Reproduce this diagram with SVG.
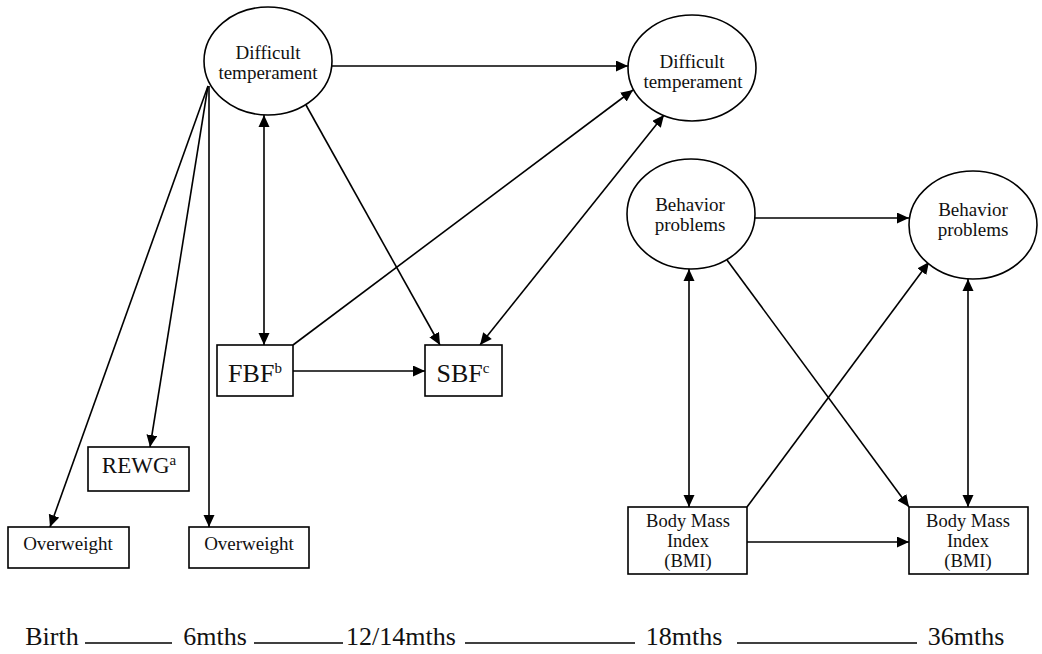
<svg xmlns="http://www.w3.org/2000/svg" width="1042" height="654" viewBox="0 0 1042 654">
<style>
.shape{fill:#fff;stroke:#000;stroke-width:1.6}
.ln{stroke:#000;stroke-width:1.6;fill:none}
.e{marker-end:url(#ah)}
.b{marker-start:url(#ahs);marker-end:url(#ah)}
text{font-family:"Liberation Serif","Times New Roman",serif;fill:#111;text-anchor:middle}
.t19{font-size:19px}
.t18{font-size:18.5px}
.big{font-size:26px}
.rw{font-size:23px}
.sup{font-size:15px}
.tl{font-size:26px}
</style>
<defs>
<marker id="ah" markerUnits="userSpaceOnUse" markerWidth="13" markerHeight="12" refX="12" refY="5.5" orient="auto">
<path d="M0,0 L12,5.5 L0,11 z" fill="#000"/>
</marker>
<marker id="ahs" markerUnits="userSpaceOnUse" markerWidth="13" markerHeight="12" refX="0" refY="5.5" orient="auto">
<path d="M12,0 L0,5.5 L12,11 z" fill="#000"/>
</marker>
</defs>

<g id="connectors">
<line class="ln e" x1="332" y1="66" x2="628" y2="66"/>
<line class="ln b" x1="264" y1="115" x2="264" y2="345"/>
<line class="ln e" x1="306" y1="105" x2="440" y2="345"/>
<line class="ln e" x1="293" y1="345" x2="633" y2="90"/>
<line class="ln b" x1="480" y1="345" x2="664" y2="115"/>
<line class="ln e" x1="293" y1="371" x2="425" y2="371"/>
<line class="ln e" x1="208" y1="86" x2="50" y2="527"/>
<line class="ln e" x1="208" y1="86" x2="150" y2="447"/>
<line class="ln e" x1="209" y1="86" x2="209" y2="527"/>
<line class="ln e" x1="755" y1="218" x2="909" y2="218"/>
<line class="ln b" x1="689" y1="269" x2="689" y2="507"/>
<line class="ln e" x1="727" y1="260" x2="909" y2="507"/>
<line class="ln e" x1="747" y1="507" x2="929" y2="262"/>
<line class="ln b" x1="968" y1="279" x2="968" y2="507"/>
<line class="ln e" x1="747" y1="542" x2="909" y2="542"/>
</g>

<g id="dt1">
<ellipse class="shape" cx="268" cy="61" rx="64" ry="54"/>
<text class="t19" x="268" y="59">Difficult</text>
<text class="t19" x="268" y="79">temperament</text>
</g>
<g id="dt2">
<ellipse class="shape" cx="692" cy="68" rx="64" ry="53"/>
<text class="t19" x="692" y="68">Difficult</text>
<text class="t19" x="693" y="88">temperament</text>
</g>
<g id="bp1">
<ellipse class="shape" cx="691" cy="214" rx="64" ry="55"/>
<text class="t19" x="690" y="211">Behavior</text>
<text class="t19" x="690" y="231">problems</text>
</g>
<g id="bp2">
<ellipse class="shape" cx="973" cy="225" rx="64" ry="54"/>
<text class="t19" x="973" y="216">Behavior</text>
<text class="t19" x="973" y="236">problems</text>
</g>
<g id="fbf">
<rect class="shape" x="217" y="345" width="76" height="51"/>
<text class="big" x="255" y="382">FBF<tspan class="sup" dy="-9">b</tspan></text>
</g>
<g id="sbf">
<rect class="shape" x="425" y="345" width="77" height="51"/>
<text class="big" x="463" y="382">SBF<tspan class="sup" dy="-9">c</tspan></text>
</g>
<g id="rewg">
<rect class="shape" x="88" y="447" width="101" height="44"/>
<text class="rw" x="139" y="473">REWG<tspan class="sup" dy="-8">a</tspan></text>
</g>
<g id="ow1">
<rect class="shape" x="8" y="527" width="121" height="41"/>
<text class="t19" x="68" y="550">Overweight</text>
</g>
<g id="ow2">
<rect class="shape" x="189" y="527" width="120" height="41"/>
<text class="t19" x="249" y="550">Overweight</text>
</g>
<g id="bmi1">
<rect class="shape" x="628" y="507" width="119" height="67"/>
<text class="t18" x="688" y="527">Body Mass</text>
<text class="t18" x="688" y="547">Index</text>
<text class="t18" x="688" y="567">(BMI)</text>
</g>
<g id="bmi2">
<rect class="shape" x="909" y="507" width="119" height="67"/>
<text class="t18" x="968" y="527">Body Mass</text>
<text class="t18" x="968" y="547">Index</text>
<text class="t18" x="968" y="567">(BMI)</text>
</g>

<g id="timeline">
<text class="tl" x="52" y="645">Birth</text>
<line class="ln" x1="85" y1="643" x2="172" y2="643"/>
<text class="tl" x="215" y="645">6mths</text>
<line class="ln" x1="254" y1="643" x2="343" y2="643"/>
<text class="tl" x="401" y="645">12/14mths</text>
<line class="ln" x1="465" y1="643" x2="635" y2="643"/>
<text class="tl" x="684" y="645">18mths</text>
<line class="ln" x1="737" y1="643" x2="917" y2="643"/>
<text class="tl" x="966" y="645">36mths</text>
</g>
</svg>
